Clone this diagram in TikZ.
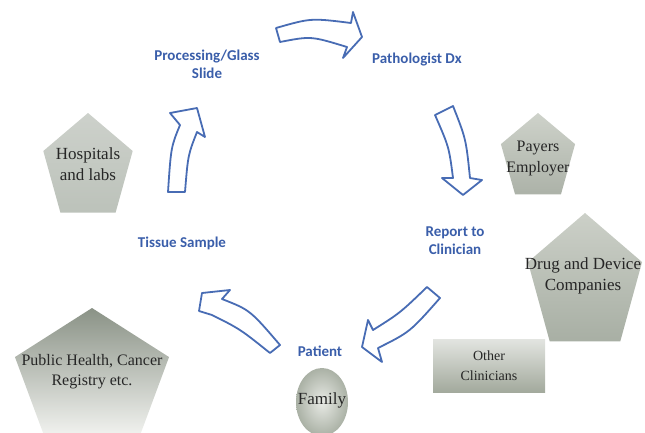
\documentclass[tikz,border=0pt]{standalone}
\usepackage{fontspec}
\setmainfont{Liberation Serif}
\newfontfamily\calib{Carlito}
\usetikzlibrary{shapes.geometric}
\definecolor{cycleblue}{RGB}{58,94,170}
\definecolor{arrowblue}{RGB}{72,108,180}
\tikzset{
  steplabel/.style={text=cycleblue, font=\calib\bfseries\fontsize{15}{18}\selectfont, align=center},
  fatarrow/.style={draw=arrowblue, fill=white, line width=1.8pt, line join=round},
  boxtext/.style={text=black!85, font=\fontsize{17}{21}\selectfont, align=center},
}
\begin{document}
\begin{tikzpicture}[x=1pt,y=-1pt]
    \useasboundingbox (0,0) rectangle (645,432);
    % Pentagons (centre, half width and half height)
    \shade[top color={rgb,255:red,205;green,209;blue,203},bottom color={rgb,255:red,188;green,194;blue,186}]
        (88,168) +(270:47 and 55) -- +(342:47 and 55) -- +(54:47 and 55) -- +(126:47 and 55) -- +(198:47 and 55) -- cycle;
    \shade[top color={rgb,255:red,206;green,210;blue,202},bottom color={rgb,255:red,172;green,178;blue,168}]
        (538,158) +(270:39 and 45) -- +(342:39 and 45) -- +(54:39 and 45) -- +(126:39 and 45) -- +(198:39 and 45) -- cycle;
    \shade[top color={rgb,255:red,204;green,208;blue,200},bottom color={rgb,255:red,168;green,175;blue,164}]
        (585,284) +(270:60 and 71) -- +(342:60 and 71) -- +(54:60 and 71) -- +(126:60 and 71) -- +(198:60 and 71) -- cycle;
    \shade[top color={rgb,255:red,138;green,146;blue,134},bottom color={rgb,255:red,242;green,243;blue,240}]
        (92,379) +(270:81 and 71) -- +(342:81 and 71) -- +(54:81 and 71) -- +(126:81 and 71) -- +(198:81 and 71) -- cycle;
    % Oval under the patient
    \shade[inner color={rgb,255:red,232;green,234;blue,229},outer color={rgb,255:red,170;green,177;blue,165}]
        (322,402) ellipse [x radius=26, y radius=34];
    \node[boxtext] (hosp) at (88,164) {Hospitals\\and labs};
    \node[boxtext,font=\fontsize{16}{21}\selectfont] (payers) at (538,158) {Payers\\Employer};
    \node[boxtext] (drug) at (583,276) {Drug and Device\\Companies};
    \node[boxtext,font=\fontsize{16}{20}\selectfont] (public) at (92,372) {Public Health, Cancer\\Registry etc.};
    \node[boxtext,font=\fontsize{14}{20}\selectfont,minimum width=112pt,minimum height=53pt,
        top color={rgb,255:red,226;green,228;blue,224},bottom color={rgb,255:red,162;green,169;blue,156}]
        (other) at (489,366) {Other\\Clinicians};
    \node[boxtext] (family) at (322,400) {Family};
    % Steps of the cycle
    \node[steplabel] (proc) at (207,64) {Processing/Glass\\Slide};
    \node[steplabel] (patho) at (417,60) {Pathologist Dx};
    \node[steplabel] (report) at (455,241) {Report to\\Clinician};
    \node[steplabel] (patient) at (320,351) {Patient};
    \node[steplabel] (tissue) at (182,243) {Tissue Sample};
    % Block arrows between the steps
    \draw[fatarrow] (276,28) .. controls (311,18) .. (351,23) -- (353,12) -- (362,37) -- (343,58)
        -- (347,47) .. controls (311,36) .. (280,42) -- cycle;
    \draw[fatarrow] (453,106) .. controls (466,139) .. (470,178) -- (482,180) -- (463,195) -- (442,178)
        -- (453,178) .. controls (449,147) .. (435,115) -- cycle;
    \draw[fatarrow] (440,298) .. controls (410,332) .. (378,348) -- (382,362) -- (362,347) -- (368,320)
        -- (373,330) .. controls (400,313) .. (427,287) -- cycle;
    \draw[fatarrow] (270,353) .. controls (240,329) .. (212,315) -- (199,311) -- (202,293) -- (230,290)
        -- (222,299) .. controls (250,310) .. (280,345) -- cycle;
    \draw[fatarrow] (168,192) .. controls (171,147) .. (180,125) -- (170,113) -- (197,108) -- (205,137)
        -- (197,132) .. controls (188,155) .. (185,192) -- cycle;
\end{tikzpicture}
\end{document}
